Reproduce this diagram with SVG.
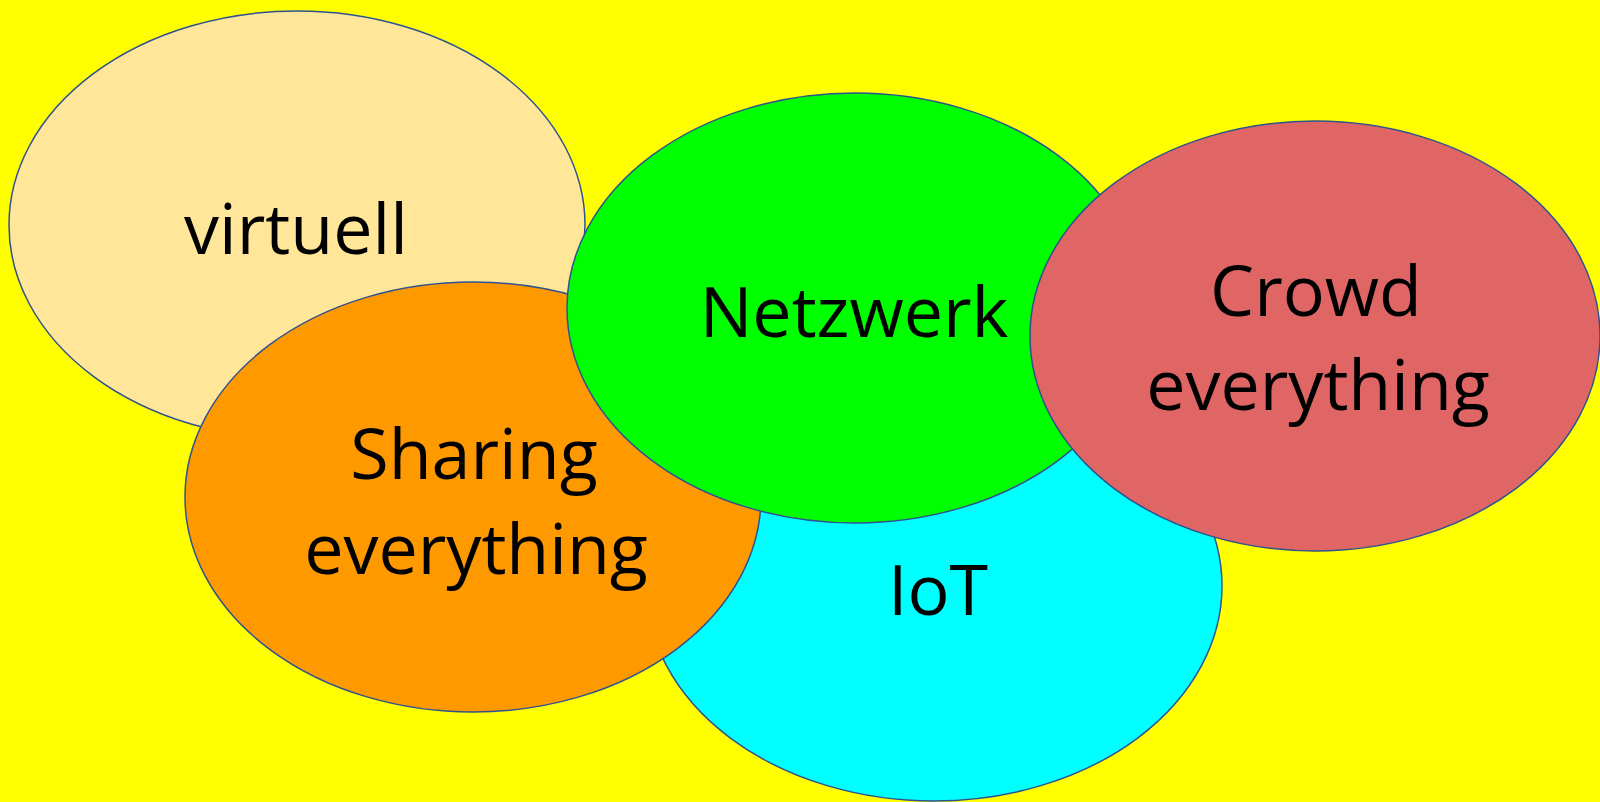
<svg xmlns="http://www.w3.org/2000/svg" width="1600" height="802" viewBox="0 0 1600 802">
<style>
.node ellipse{stroke:#2F528F;stroke-width:1.5}
.node text{font-family:"Open Sans","Liberation Sans",sans-serif;font-size:70px;fill:#000;text-anchor:middle}
</style>
<rect x="0" y="0" width="1600" height="802" fill="#FFFF00"/>
<g id="connectors"></g>
<g id="virtuell" class="node">
<ellipse cx="297" cy="225" rx="288" ry="214" fill="#FFE699"/>
<text x="296" y="254">virtuell</text>
</g>
<g id="iot" class="node">
<ellipse cx="934" cy="586" rx="288" ry="215" fill="#00FFFF"/>
<text x="938" y="615">IoT</text>
</g>
<g id="sharing" class="node">
<ellipse cx="473" cy="497" rx="288" ry="215" fill="#FF9900"/>
<text x="474" y="479">Sharing</text>
<text x="476" y="574">everything</text>
</g>
<g id="netzwerk" class="node">
<ellipse cx="855" cy="308" rx="288" ry="215" fill="#00FF00"/>
<text x="854" y="337">Netzwerk</text>
</g>
<g id="crowd" class="node">
<ellipse cx="1315" cy="336" rx="285" ry="215" fill="#E06666"/>
<text x="1316" y="316">Crowd</text>
<text x="1318" y="410">everything</text>
</g>
</svg>
